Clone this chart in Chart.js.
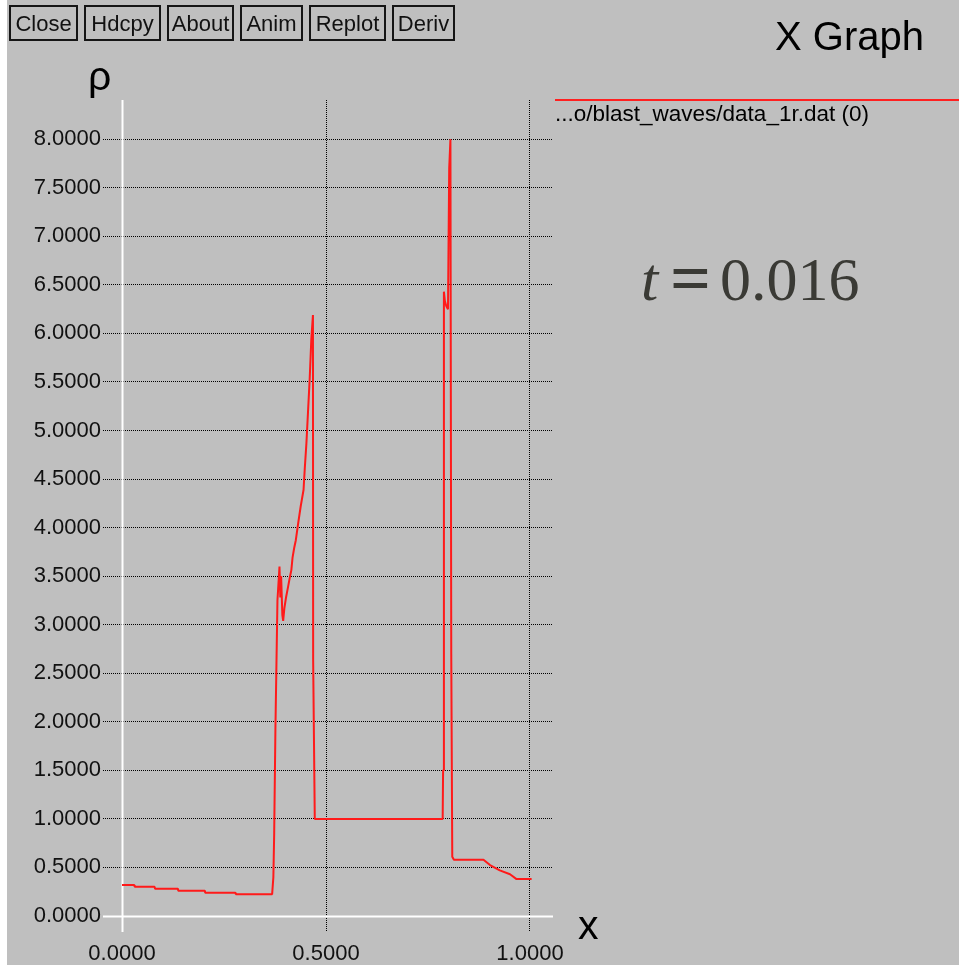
<!DOCTYPE html>
<html>
<head>
<meta charset="utf-8">
<title>X Graph</title>
<script src="https://cdn.jsdelivr.net/npm/chart.js@4.4.1/dist/chart.umd.min.js"></script>
<style>
  html, body { margin: 0; padding: 0; background: #ffffff; width: 959px; height: 967px; overflow: hidden; }
  #panel { position: absolute; left: 7px; top: 0; width: 952px; height: 965px; background: #bfbfbf; }
  #plot { position: absolute; left: 0; top: 0; }
  .btn {
    position: absolute; top: 5px; height: 36px; box-sizing: border-box;
    border: 2px solid #151515; color: #111;
    font: 22px "Liberation Sans", Arial, sans-serif; line-height: 32px; padding-top: 1px;
    text-align: center; white-space: nowrap;
  }
  .txt { position: absolute; white-space: nowrap; line-height: 1; color: #000; }
  .sans { font-family: "Liberation Sans", Arial, sans-serif; }
  .serif { font-family: "Liberation Serif", "Times New Roman", serif; color: #3a3a35; }
  #legendLine { position: absolute; left: 555px; top: 99px; width: 404px; height: 2px; background: #ff2020; }
</style>
</head>
<body>
<div id="panel"></div>
<canvas id="plot" width="959" height="967"></canvas>

<div class="btn" style="left:9px;width:69px;">Close</div>
<div class="btn" style="left:84px;width:77px;">Hdcpy</div>
<div class="btn" style="left:167px;width:67px;">About</div>
<div class="btn" style="left:240px;width:63px;">Anim</div>
<div class="btn" style="left:309px;width:77px;">Replot</div>
<div class="btn" style="left:392px;width:63px;">Deriv</div>

<div class="txt sans" style="left:775px;top:16px;font-size:40px;">X Graph</div>
<div id="legendLine"></div>
<div class="txt sans" style="left:555px;top:103px;font-size:22.5px;">...o/blast_waves/data_1r.dat (0)</div>
<div class="txt sans" style="left:88px;top:56px;font-size:41px;">ρ</div>
<div class="txt sans" style="left:578px;top:905px;font-size:41px;">x</div>

<div class="txt serif" style="left:641px;top:248px;font-size:62px;font-style:italic;">t</div>
<div class="txt serif" style="left:670px;top:242px;font-size:72px;font-weight:bold;">=</div>
<div class="txt serif" style="left:720px;top:248px;font-size:62px;">0.016</div>

<script>
// Density profile of the blast-wave run (data_1r.dat) at t = 0.016
const xValues = [
  0.000, 0.030, 0.031, 0.080, 0.081, 0.137, 0.138, 0.203, 0.204, 0.278, 0.279, 0.368,
  0.371, 0.373, 0.376, 0.381, 0.386, 0.388, 0.390, 0.393, 0.395, 0.398, 0.402, 0.407,
  0.411, 0.415, 0.418, 0.422, 0.426, 0.432, 0.438, 0.445, 0.448, 0.452, 0.456, 0.460,
  0.464, 0.468, 0.4685, 0.4725, 0.786, 0.787, 0.789, 0.7915, 0.795, 0.799, 0.802, 0.805,
  0.807, 0.8095, 0.8135, 0.886, 0.902, 0.926, 0.951, 0.967, 1.004
];
const rhoValues = [
  0.32, 0.32, 0.30, 0.30, 0.28, 0.28, 0.26, 0.26, 0.24, 0.24, 0.225, 0.225,
  0.40, 0.85, 1.92, 3.25, 3.60, 3.28, 3.50, 3.10, 3.04, 3.17, 3.28, 3.39,
  3.48, 3.56, 3.69, 3.79, 3.87, 4.05, 4.22, 4.39, 4.61, 4.87, 5.20, 5.53,
  5.94, 6.19, 2.64, 1.00, 1.00, 1.50, 6.43, 6.33, 6.28, 6.25, 7.70, 8.00,
  2.70, 0.61, 0.58, 0.58, 0.525, 0.47, 0.43, 0.38, 0.38
];

// Axis ticks
const xTickValues = [0.0, 0.5, 1.0];
const yTickValues = [0.0, 0.5, 1.0, 1.5, 2.0, 2.5, 3.0, 3.5, 4.0, 4.5, 5.0, 5.5, 6.0, 6.5, 7.0, 7.5, 8.0];

// Axis ranges
const xRange = [-0.0466, 1.0564];
const yRange = [-0.165, 8.404];

const labelFont = { family: 'Liberation Sans', size: 22 };

// White x = 0 and rho = 0 axis lines under the curve
const zeroAxes = {
  id: 'zeroAxes',
  beforeDatasetsDraw(chart) {
    const { ctx, chartArea: a, scales } = chart;
    const x0 = Math.round(scales.x.getPixelForValue(0)) + 0.5;
    const y0 = Math.round(scales.y.getPixelForValue(0)) + 0.5;
    ctx.save();
    ctx.strokeStyle = '#ffffff';
    ctx.lineWidth = 2;
    ctx.beginPath();
    ctx.moveTo(x0, a.top);
    ctx.lineTo(x0, a.bottom);
    ctx.moveTo(a.left, y0);
    ctx.lineTo(a.right, y0);
    ctx.stroke();
    ctx.restore();
  }
};

const gridColor = (c) => (c.tick && c.tick.value === 0) ? 'rgba(0,0,0,0)' : '#000000';

new Chart(document.getElementById('plot'), {
  type: 'line',
  data: {
    datasets: [{
      data: xValues.map((x, i) => ({ x: x, y: rhoValues[i] })),
      borderColor: '#ff1a1a',
      borderWidth: 2,
      borderJoinStyle: 'bevel',
      pointRadius: 0,
      tension: 0,
      fill: false
    }]
  },
  options: {
    responsive: false,
    animation: false,
    devicePixelRatio: 1,
    layout: { padding: { left: 0, top: 100, right: 406, bottom: 0 } },
    plugins: { legend: { display: false }, tooltip: { enabled: false }, title: { display: false } },
    scales: {
      x: {
        type: 'linear',
        min: xRange[0], max: xRange[1],
        afterBuildTicks: (s) => { s.ticks = xTickValues.map(v => ({ value: v })); },
        afterFit: (s) => { s.height = 35; },
        grid: { color: gridColor, lineWidth: 1, drawTicks: false },
        border: { display: false, dash: [1, 1] },
        ticks: {
          padding: 9, color: '#111', font: labelFont, maxRotation: 0, autoSkip: false,
          callback: (v) => Number(v).toFixed(4)
        }
      },
      y: {
        type: 'linear',
        min: yRange[0], max: yRange[1],
        afterBuildTicks: (s) => { s.ticks = yTickValues.map(v => ({ value: v })); },
        afterFit: (s) => { s.width = 103; },
        grid: { color: gridColor, lineWidth: 1, drawTicks: false },
        border: { display: false, dash: [1, 1] },
        ticks: {
          padding: 2, color: '#111', font: labelFont, autoSkip: false,
          callback: (v) => Number(v).toFixed(4)
        }
      }
    }
  },
  plugins: [zeroAxes]
});
</script>
</body>
</html>
